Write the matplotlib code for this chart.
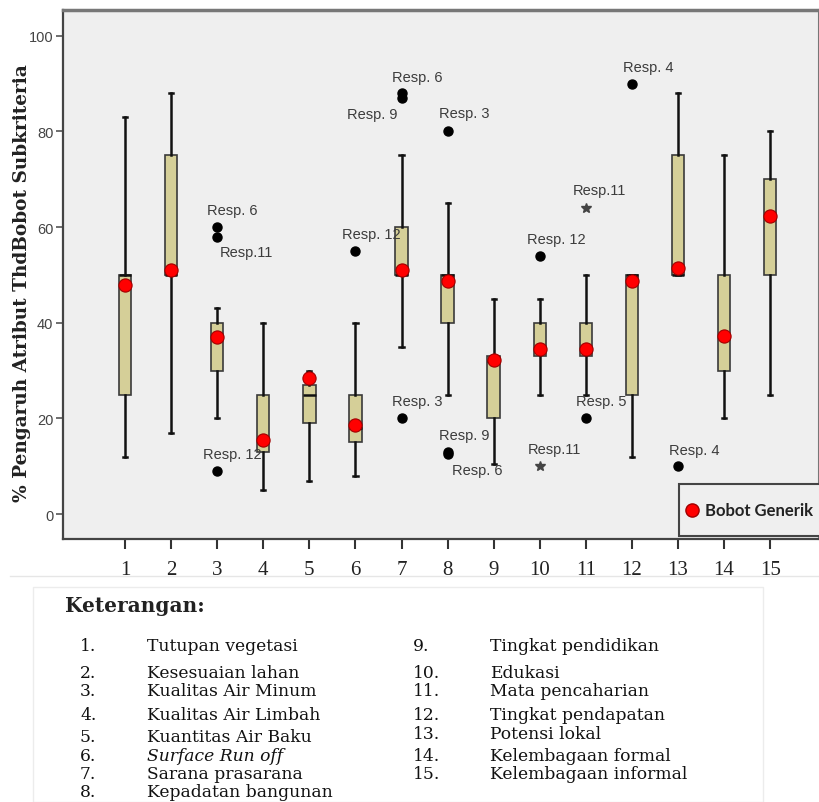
import matplotlib.pyplot as plt
from matplotlib.lines import Line2D
from matplotlib.patches import Rectangle

# box statistics per subkriteria (1..15)
positions = list(range(1, 16))
whisker_low = [12, 17, 20, 5, 7, 8, 35, 25, 10.5, 25, 25, 12, 50, 20, 25]
q1 = [25, 50, 30, 13, 19, 15, 50, 40, 20, 33, 33, 25, 50, 30, 50]
median = [50, 50, 37, 15, 25, 18, 50, 50, 32, 35, 35, 50, 50, 37, 62]
q3 = [50, 75, 40, 25, 27, 25, 60, 50, 33, 40, 40, 50, 75, 50, 70]
whisker_high = [83, 88, 43, 40, 30, 40, 75, 65, 45, 45, 50, 50, 88, 75, 80]
bobot_generik = [48, 51, 37, 15.5, 28.5, 18.7, 51, 48.7, 32.2, 34.5, 34.5, 48.7, 51.5, 37.3, 62.3]

# outliers (o) and extremes (*)
outlier_pos = [3, 3, 3, 6, 7, 7, 7, 8, 8, 8, 10, 10, 11, 11, 12, 13]
outlier_val = [60, 58, 9, 55, 88, 87, 20, 80, 13, 12.5, 54, 10, 64, 20, 90, 10]
outlier_label = ["Resp. 6", "Resp.11", "Resp. 12", "Resp. 12", "Resp. 6", "Resp. 9",
                 "Resp. 3", "Resp. 3", "Resp. 9", "Resp. 6", "Resp. 12", "Resp.11",
                 "Resp.11", "Resp. 5", "Resp. 4", "Resp. 4"]
outlier_extreme = [False, False, False, False, False, False, False, False, False,
                   False, False, True, True, False, False, False]

keterangan_left = ["Tutupan vegetasi", "Kesesuaian lahan", "Kualitas Air Minum",
                   "Kualitas Air Limbah", "Kuantitas Air Baku", "Surface Run off",
                   "Sarana prasarana", "Kepadatan bangunan"]
keterangan_right = ["Tingkat pendidikan", "Edukasi", "Mata pencaharian",
                    "Tingkat pendapatan", "Potensi lokal", "Kelembagaan formal",
                    "Kelembagaan informal"]

# label offsets in pixels (dx, dy) relative to each outlier point
label_offsets = [(-10, 17), (3, -15), (-14, 17), (-13, 17), (-10, 16), (-55, -16),
                 (-10, 17), (-9, 18), (-9, 17), (4, -16), (-13, 17), (-12, 17),
                 (-13, 18), (-10, 17), (-9, 17), (-9, 16)]

W, H = 820, 803
fig = plt.figure(figsize=(W / 100, H / 100), dpi=100)
ax = fig.add_axes([63 / W, 1 - 540 / H, (819 - 63) / W, (540 - 11) / H])
ax.set_facecolor('#efefef')

stats = []
for i in range(len(positions)):
    stats.append(dict(med=median[i], q1=q1[i], q3=q3[i],
                      whislo=whisker_low[i], whishi=whisker_high[i], fliers=[]))

ax.bxp(stats, positions=positions, widths=0.27, capwidths=0.09,
       patch_artist=True, showfliers=False,
       boxprops=dict(facecolor='#d5cf98', edgecolor='#3a3a3a', linewidth=1.2),
       whiskerprops=dict(color='#111111', linewidth=1.8),
       capprops=dict(color='#111111', linewidth=1.8),
       medianprops=dict(color='#111111', linewidth=1.8))

for p, v, lab, ext, off in zip(outlier_pos, outlier_val, outlier_label,
                                outlier_extreme, label_offsets):
    if ext:
        ax.plot(p, v, marker='*', color='#444444', markersize=7, zorder=4)
    else:
        ax.plot(p, v, marker='o', color='black', markersize=6.5, zorder=4)
    ax.annotate(lab, (p, v), xytext=(off[0] * 0.72, off[1] * 0.72),
                textcoords='offset points', ha='left', va='center',
                fontsize=10.5, color='#3c3c3c', family='Liberation Sans', zorder=5)

ax.plot(positions, bobot_generik, linestyle='none', marker='o', markersize=9.5,
        markerfacecolor='#ff0000', markeredgecolor='#a00000', markeredgewidth=0.8,
        zorder=6)

ax.set_xlim(-0.346, 16.06)
ax.set_ylim(-5.2, 105.4)
ax.set_yticks([0, 20, 40, 60, 80, 100])
ax.set_yticklabels(['0', '20', '40', '60', '80', '100'], family='Liberation Sans',
                   fontsize=10.5, color='#444444')
ax.set_xticks(positions)
ax.set_xticklabels([str(p) for p in positions], family='Liberation Serif',
                   fontsize=15, color='#222222')
ax.tick_params(axis='x', direction='out', length=7, width=1.5, pad=8, color='#333333')
ax.tick_params(axis='y', direction='out', length=5, width=1.2, pad=2, color='#555555')
for s in ['left', 'bottom']:
    ax.spines[s].set_color('#444444')
    ax.spines[s].set_linewidth(1.6)
ax.spines['top'].set_color('#777777')
ax.spines['top'].set_linewidth(2.5)
ax.spines['right'].set_color('#777777')
ax.spines['right'].set_linewidth(1.5)

# legend box, drawn in axes coordinates
ax.add_patch(Rectangle((0.8148, 0.006), 0.2, 0.098, transform=ax.transAxes,
                       facecolor='#efefef', edgecolor='#444444', linewidth=1.5,
                       zorder=7, clip_on=False))
ax.plot([0.832], [0.0548], transform=ax.transAxes, linestyle='none', marker='o',
        markersize=9.5, markerfacecolor='#ff0000', markeredgecolor='#a00000',
        zorder=8, clip_on=False)
ax.text(0.849, 0.0548, 'Bobot Generik', transform=ax.transAxes, ha='left',
        va='center', family='Lato', weight='bold', fontsize=12, color='#222222',
        zorder=8)

fig.text(22 / W, 1 - 283 / H, '% Pengaruh Atribut ThdBobot Subkriteria', rotation=90,
         ha='center', va='center', family='DejaVu Serif', weight='bold',
         fontsize=13.3, color='#222222')

# keterangan block
fig.add_artist(Line2D([10 / W, 1], [1 - 577 / H, 1 - 577 / H], color='#e6e6e6',
                      linewidth=1, transform=fig.transFigure))
fig.add_artist(Rectangle((33 / W, 0), (763 - 33) / W, 1 - 588 / H, fill=False,
                         edgecolor='#ececec', linewidth=1, transform=fig.transFigure))
fig.text(65 / W, 1 - 606 / H, 'Keterangan:', ha='left', va='center',
         family='DejaVu Serif', weight='bold', fontsize=14.5, color='#222222')
rows_left = [647, 674, 692, 716, 738, 757, 775, 793]
rows_right = [647, 674, 692, 716, 735, 757, 775]
for i, txt in enumerate(keterangan_left):
    y = 1 - rows_left[i] / H
    fig.text(80 / W, y, f'{i + 1}.', ha='left', va='center', family='DejaVu Serif',
             fontsize=12.3, color='#111111')
    fig.text(147 / W, y, txt, ha='left', va='center', family='DejaVu Serif',
             fontsize=12.3, color='#111111', style='italic' if i == 5 else 'normal')
for i, txt in enumerate(keterangan_right):
    y = 1 - rows_right[i] / H
    fig.text(413 / W, y, f'{i + 9}.', ha='left', va='center', family='DejaVu Serif',
             fontsize=12.3, color='#111111')
    fig.text(490 / W, y, txt, ha='left', va='center', family='DejaVu Serif',
             fontsize=12.3, color='#111111')

fig.savefig('out.png', dpi=100)
